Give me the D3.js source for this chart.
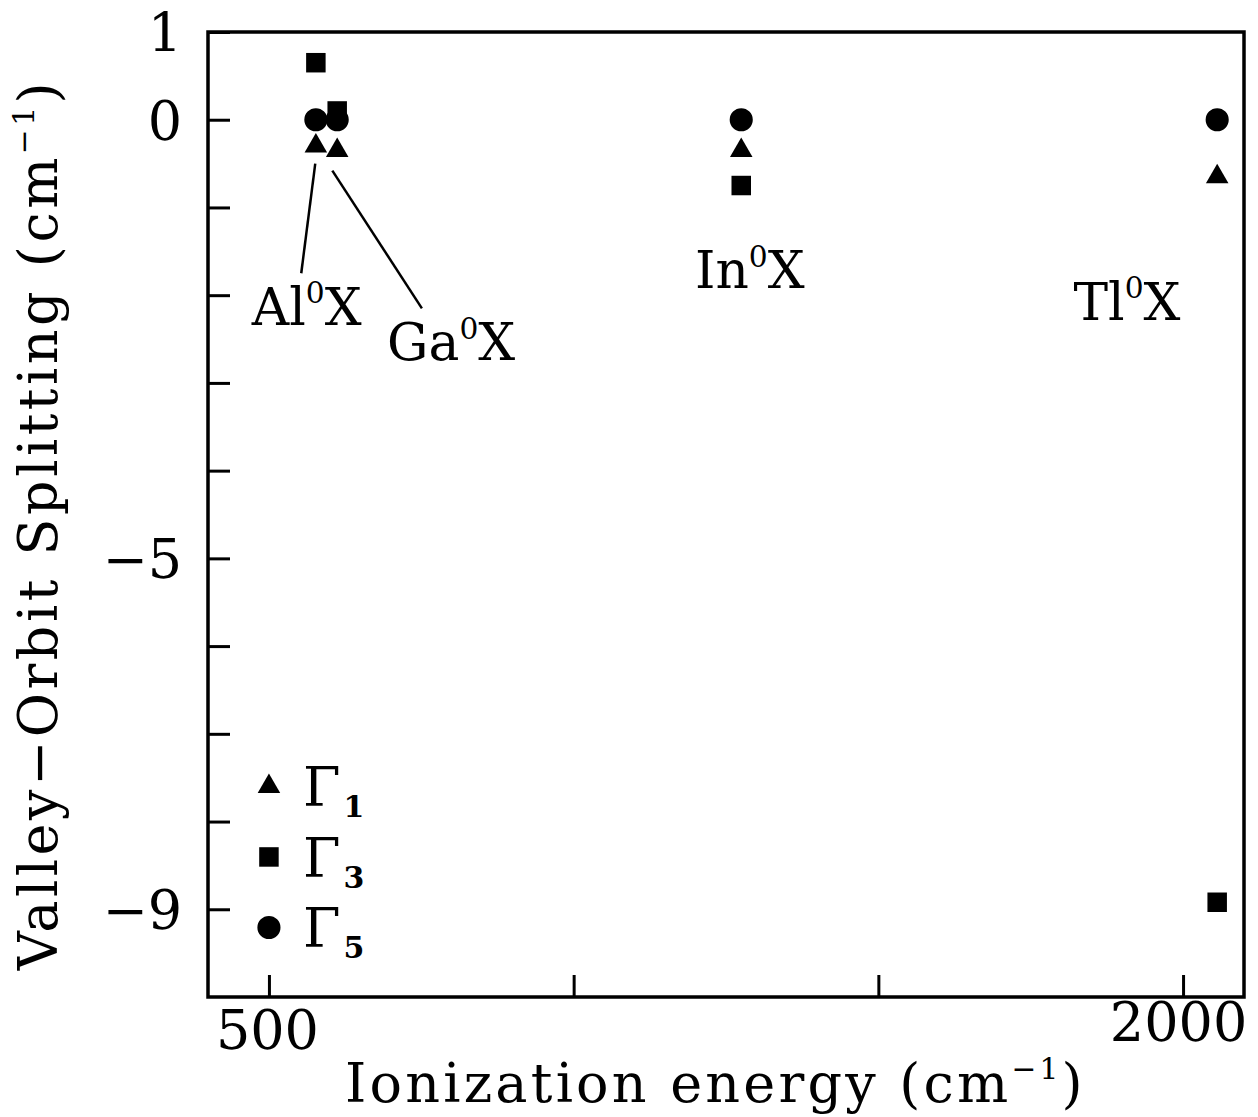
<!DOCTYPE html>
<html>
<head>
<meta charset="utf-8">
<script src="https://cdn.jsdelivr.net/npm/d3@7"></script>
<style>
  body { margin: 0; background: #fff; }
  svg { display: block; }
  text { font-family: "DejaVu Serif", "Liberation Serif", serif; fill: #000; }
</style>
</head>
<body>
<script>
// Neutral acceptor-bound excitons in Si: valley-orbit splittings vs. acceptor ionization energy
const acceptors = ["Al", "Ga", "In", "Tl"];
const ionizationEnergy = [577, 612, 1275, 2056];     // cm^-1
const gamma1 = [-0.3, -0.35, -0.35, -0.65];           // cm^-1
const gamma3 = [0.65, 0.1, -0.75, -8.92];             // cm^-1
const gamma5 = [0, 0, 0, 0];                          // cm^-1

const xTickValues = [500, 1000, 1500, 2000];
const xTickLabels = ["500", "", "", "2000"];
const yTickValues = [1, 0, -1, -2, -3, -4, -5, -6, -7, -8, -9];
const yTickLabels = ["1", "0", "", "", "", "", "\u22125", "", "", "", "\u22129"];

// Label anchors (data units) and leader lines for each acceptor
const labelX = [562, 799, 1289, 1908];
const labelY = [-2.34, -2.74, -1.92, -2.28];
const leaderFrom = [[576, -0.5], [604, -0.58], null, null];
const leaderTo = [[553, -1.75], [751, -2.15], null, null];

const W = 1258, H = 1117;
const x = d3.scaleLinear().domain([400, 2100]).range([208, 1244]);
const y = d3.scaleLinear().domain([-10, 1]).range([997, 32]);

const svg = d3.select("body").append("svg")
  .attr("width", W).attr("height", H);

// Frame
svg.append("rect")
  .attr("x", x(400)).attr("y", y(1))
  .attr("width", x(2100) - x(400)).attr("height", y(-10) - y(1))
  .attr("fill", "none").attr("stroke", "#000").attr("stroke-width", 3.5);

const fontSize = 54;

// Left axis, ticks pointing inward
const yAxis = svg.append("g")
  .attr("transform", `translate(${x(400)},0)`)
  .call(d3.axisLeft(y)
    .tickValues(yTickValues)
    .tickSizeInner(-22).tickSizeOuter(0).tickPadding(26)
    .tickFormat((d, i) => yTickLabels[i]));
yAxis.select(".domain").remove();
yAxis.selectAll(".tick line").attr("stroke", "#000").attr("stroke-width", 3);
yAxis.selectAll(".tick text")
  .attr("font-size", fontSize).attr("font-family", "DejaVu Serif").attr("fill", "#000")
  .attr("dy", "0.36em");

// Bottom axis, ticks pointing inward
const xAxis = svg.append("g")
  .attr("transform", `translate(0,${y(-10)})`)
  .call(d3.axisBottom(x)
    .tickValues(xTickValues)
    .tickSizeInner(-22).tickSizeOuter(0).tickPadding(14)
    .tickFormat((d, i) => xTickLabels[i]));
xAxis.select(".domain").remove();
xAxis.selectAll(".tick line").attr("stroke", "#000").attr("stroke-width", 3);
xAxis.selectAll(".tick text")
  .attr("font-size", fontSize).attr("font-family", "DejaVu Serif").attr("fill", "#000")
  .attr("dy", (d, i) => i === 0 ? "0.71em" : "0.55em")
  .attr("dx", (d, i) => i === 0 ? -2 : -5);

// Axis titles with superscript units
function unitTitle(sel, main) {
  sel.append("tspan").text(main + "(cm");
  sel.append("tspan").attr("font-size", fontSize * 0.55).attr("dy", -fontSize * 0.42).text("\u22121");
  sel.append("tspan").attr("dy", fontSize * 0.42).text(")");
}

const xTitle = svg.append("text")
  .attr("x", 345).attr("y", 1102)
  .attr("text-anchor", "start")
  .attr("font-size", fontSize).attr("letter-spacing", 3.2);
unitTitle(xTitle, "Ionization energy ");

const yTitle = svg.append("text")
  .attr("transform", `translate(57,${(y(1) + y(-10)) / 2 + 10}) rotate(-90)`)
  .attr("text-anchor", "middle")
  .attr("font-size", fontSize).attr("letter-spacing", 3.5);
unitTitle(yTitle, "Valley\u2212Orbit Splitting ");

// Markers
const triangle = d3.symbol().type(d3.symbolTriangle).size(220);
const square = d3.symbol().type(d3.symbolSquare).size(380);
const circle = d3.symbol().type(d3.symbolCircle).size(420);

const points = svg.append("g");
points.selectAll(".g1").data(acceptors).join("path")
  .attr("d", triangle)
  .attr("transform", (d, i) => `translate(${x(ionizationEnergy[i])},${y(gamma1[i])})`)
  .attr("fill", "#000");
points.selectAll(".g3").data(acceptors).join("path")
  .attr("d", square)
  .attr("transform", (d, i) => `translate(${x(ionizationEnergy[i])},${y(gamma3[i])})`)
  .attr("fill", "#000");
points.selectAll(".g5").data(acceptors).join("path")
  .attr("d", circle)
  .attr("transform", (d, i) => `translate(${x(ionizationEnergy[i])},${y(gamma5[i])})`)
  .attr("fill", "#000");

// Leader lines and acceptor labels
const notes = svg.append("g");
acceptors.forEach((name, i) => {
  if (leaderFrom[i]) {
    notes.append("line")
      .attr("x1", x(leaderFrom[i][0])).attr("y1", y(leaderFrom[i][1]))
      .attr("x2", x(leaderTo[i][0])).attr("y2", y(leaderTo[i][1]))
      .attr("stroke", "#000").attr("stroke-width", 2.5);
  }
  const t = notes.append("text")
    .attr("x", x(labelX[i])).attr("y", y(labelY[i]))
    .attr("text-anchor", "middle")
    .attr("font-size", fontSize * 0.96);
  t.append("tspan").text(name);
  t.append("tspan").attr("font-size", fontSize * 0.55).attr("dy", -fontSize * 0.4).text("0");
  t.append("tspan").attr("dy", fontSize * 0.4).text("X");
});

// Legend
const legendItems = [
  { sym: triangle, sub: "1" },
  { sym: square, sub: "3" },
  { sym: circle, sub: "5" }
];
const legend = svg.append("g").attr("transform", `translate(${x(500)},${y(-7.6)})`);
legendItems.forEach((d, i) => {
  const row = legend.append("g").attr("transform", `translate(0,${i * 70.5})`);
  row.append("path").attr("d", d.sym).attr("fill", "#000");
  const t = row.append("text").attr("x", 34).attr("y", 20).attr("font-size", fontSize);
  t.append("tspan").text("\u0393");
  t.append("tspan").attr("font-size", 30).attr("font-weight", "bold").attr("dx", 3).attr("dy", 11).text(d.sub);
});
</script>
</body>
</html>
